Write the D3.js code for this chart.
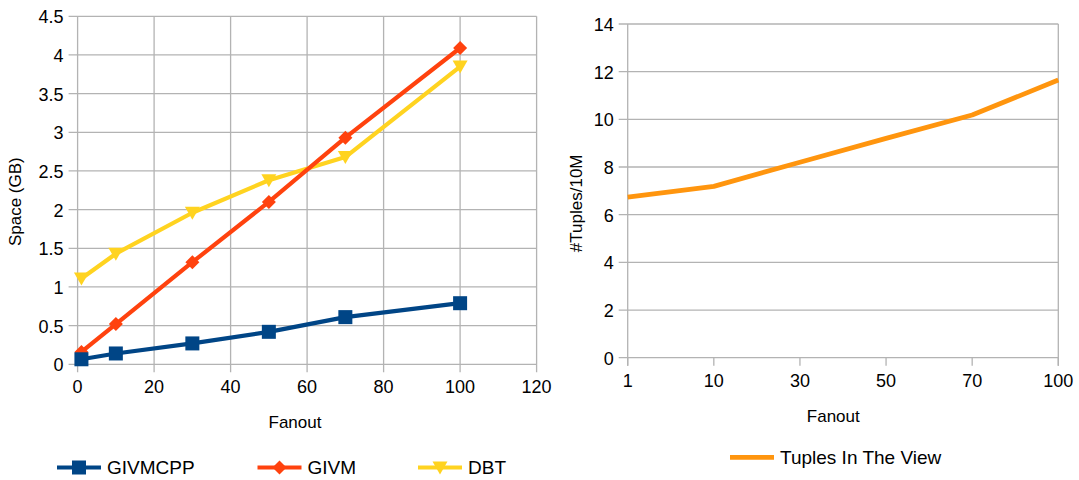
<!DOCTYPE html>
<html><head><meta charset="utf-8">
<script src="https://cdn.jsdelivr.net/npm/d3@7"></script>
<style>body{margin:0;background:#fff}svg text{font-family:"Liberation Sans",Arial,sans-serif;fill:#000}</style>
</head><body><svg id="c" width="1079" height="480"></svg>
<script>
const fanoutLeft = [1, 10, 30, 50, 70, 100];
const givmcpp = [0.065, 0.14, 0.27, 0.42, 0.61, 0.79];
const givm = [0.16, 0.52, 1.32, 2.10, 2.93, 4.09];
const dbt = [1.11, 1.43, 1.96, 2.38, 2.68, 3.85];
const leftXTicks = [0, 20, 40, 60, 80, 100, 120];
const leftYTicks = [0, 0.5, 1, 1.5, 2, 2.5, 3, 3.5, 4, 4.5];
const fanoutRight = ["1", "10", "30", "50", "70", "100"];
const tuples = [6.74, 7.19, 8.20, 9.20, 10.18, 11.65];
const rightYTicks = [0, 2, 4, 6, 8, 10, 12, 14];

const svg = d3.select("#c");
const grid = "#b3b3b3";
const TICK_FS = 18, TITLE_FS = 17, LEG_FS = 19;

// ---- Left chart ----
const L = {x0: 77.6, x1: 536.6, y0: 364.3, y1: 16.3};
const xL = d3.scaleLinear().domain([0, 120]).range([L.x0, L.x1]);
const yL = d3.scaleLinear().domain([0, 4.5]).range([L.y0, L.y1]);
const gL = svg.append("g");
gL.selectAll("line.hg").data(leftYTicks).join("line")
  .attr("x1", L.x0 - 9).attr("x2", L.x1).attr("y1", d => yL(d)).attr("y2", d => yL(d))
  .attr("stroke", grid).attr("stroke-width", 1.3);
gL.selectAll("line.vg").data(leftXTicks).join("line")
  .attr("y1", L.y1).attr("y2", L.y0 + 8).attr("x1", d => xL(d)).attr("x2", d => xL(d))
  .attr("stroke", grid).attr("stroke-width", 1.3);
gL.selectAll("text.yt").data(leftYTicks).join("text")
  .attr("x", L.x0 - 14).attr("y", d => yL(d) + 7).attr("text-anchor", "end")
  .attr("font-size", TICK_FS).text(d => d);
gL.selectAll("text.xt").data(leftXTicks).join("text")
  .attr("x", d => xL(d)).attr("y", L.y0 + 29).attr("text-anchor", "middle")
  .attr("font-size", TICK_FS).text(d => d);
gL.append("text").attr("transform", `translate(21,201.7) rotate(-90)`)
  .attr("text-anchor", "middle").attr("font-size", TITLE_FS).text("Space (GB)");
gL.append("text").attr("x", 295).attr("y", 428).attr("text-anchor", "middle")
  .attr("font-size", TITLE_FS).text("Fanout");

const series = [
  {name: "GIVMCPP", vals: givmcpp, color: "#004586", shape: "square"},
  {name: "GIVM", vals: givm, color: "#ff420e", shape: "diamond"},
  {name: "DBT", vals: dbt, color: "#ffd320", shape: "tri"}
];
function marker(g, shape, color, x, y) {
  if (shape === "square") g.append("rect").attr("x", x - 7).attr("y", y - 7).attr("width", 14).attr("height", 14).attr("fill", color);
  else if (shape === "diamond") g.append("path").attr("d", `M${x},${y - 7}L${x + 7},${y}L${x},${y + 7}L${x - 7},${y}Z`).attr("fill", color);
  else g.append("path").attr("d", `M${x - 7.5},${y - 6}L${x + 7.5},${y - 6}L${x},${y + 7}Z`).attr("fill", color);
}
const line = d3.line().x(d => xL(d[0])).y(d => yL(d[1]));
[series[2], series[1], series[0]].forEach(s => {
  const pts = fanoutLeft.map((f, i) => [f, s.vals[i]]);
  gL.append("path").attr("d", line(pts)).attr("fill", "none").attr("stroke", s.color).attr("stroke-width", 4.2).attr("stroke-linejoin", "round");
  pts.forEach(p => marker(gL, s.shape, s.color, xL(p[0]), yL(p[1])));
});
// legend
const legX = [57, 257.5, 418];
series.forEach((s, i) => {
  const lg = svg.append("g");
  const ly = 467.5;
  lg.append("line").attr("x1", legX[i]).attr("x2", legX[i] + 44).attr("y1", ly).attr("y2", ly).attr("stroke", s.color).attr("stroke-width", 4.2);
  marker(lg, s.shape, s.color, legX[i] + 22, ly);
  lg.append("text").attr("x", legX[i] + 50).attr("y", 473.5).attr("font-size", LEG_FS).text(s.name);
});

// ---- Right chart ----
const R = {x0: 627.7, x1: 1058.3, y0: 357.7, y1: 24};
const xR = d3.scalePoint().domain(fanoutRight).range([R.x0, R.x1]);
const yR = d3.scaleLinear().domain([0, 14]).range([R.y0, R.y1]);
const gR = svg.append("g");
gR.selectAll("line.hg").data(rightYTicks).join("line")
  .attr("x1", R.x0 - 9).attr("x2", R.x1).attr("y1", d => yR(d)).attr("y2", d => yR(d))
  .attr("stroke", grid).attr("stroke-width", 1.3);
gR.append("line").attr("x1", R.x0).attr("x2", R.x0).attr("y1", R.y1).attr("y2", R.y0 + 8).attr("stroke", grid).attr("stroke-width", 1.3);
gR.append("line").attr("x1", R.x1).attr("x2", R.x1).attr("y1", R.y1).attr("y2", R.y0 + 8).attr("stroke", grid).attr("stroke-width", 1.3);
gR.selectAll("line.xt").data(fanoutRight).join("line")
  .attr("x1", d => xR(d)).attr("x2", d => xR(d)).attr("y1", R.y0).attr("y2", R.y0 + 8)
  .attr("stroke", grid).attr("stroke-width", 1.3);
gR.selectAll("text.yt").data(rightYTicks).join("text")
  .attr("x", R.x0 - 14).attr("y", d => yR(d) + 7).attr("text-anchor", "end")
  .attr("font-size", TICK_FS).text(d => d);
gR.selectAll("text.xt").data(fanoutRight).join("text")
  .attr("x", d => xR(d)).attr("y", R.y0 + 29).attr("text-anchor", "middle")
  .attr("font-size", TICK_FS).text(d => d);
gR.append("text").attr("transform", `translate(582,203.3) rotate(-90)`)
  .attr("text-anchor", "middle").attr("font-size", TITLE_FS).text("#Tuples/10M");
gR.append("text").attr("x", 833.3).attr("y", 421.5).attr("text-anchor", "middle")
  .attr("font-size", TITLE_FS).text("Fanout");
const lineR = d3.line().x(d => xR(d[0])).y(d => yR(d[1]));
gR.append("path").attr("d", lineR(fanoutRight.map((f, i) => [f, tuples[i]])))
  .attr("fill", "none").attr("stroke", "#ff950e").attr("stroke-width", 4.8).attr("stroke-linejoin", "round");
gR.append("line").attr("x1", 730).attr("x2", 774).attr("y1", 457.3).attr("y2", 457.3).attr("stroke", "#ff950e").attr("stroke-width", 4.8);
gR.append("text").attr("x", 780).attr("y", 464).attr("font-size", LEG_FS).text("Tuples In The View");
</script></body></html>
